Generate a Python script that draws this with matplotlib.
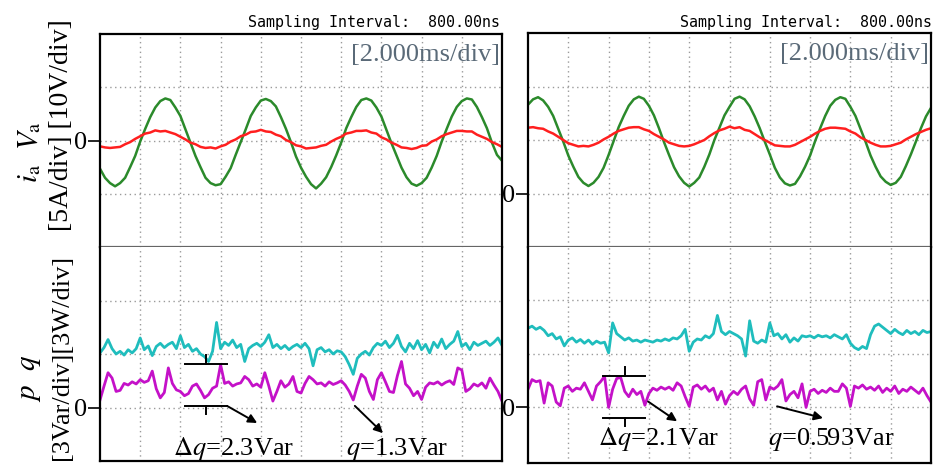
import matplotlib.pyplot as plt
import numpy as np

plt.rcParams['font.family'] = ['Liberation Serif', 'DejaVu Serif']
plt.rcParams['mathtext.fontset'] = 'stix'

W, H = 935, 466

# time base in scope divisions (2 ms/div)
t_wave = np.linspace(0, 10, 81)
t_pow = np.linspace(0, 10, 101)

# left scope, upper traces (divisions)
left_va = [-0.53, -0.70, -0.80, -0.86, -0.80, -0.70, -0.50, -0.29, -0.02, 0.22,
           0.44, 0.62, 0.74, 0.79, 0.76, 0.62, 0.46, 0.21, -0.04, -0.29,
           -0.50, -0.70, -0.80, -0.84, -0.82, -0.68, -0.52, -0.27, -0.03, 0.21,
           0.46, 0.62, 0.75, 0.78, 0.74, 0.64, 0.44, 0.22, -0.03, -0.30,
           -0.51, -0.68, -0.82, -0.90, -0.81, -0.69, -0.50, -0.28, -0.04, 0.23,
           0.44, 0.63, 0.76, 0.79, 0.75, 0.62, 0.45, 0.20, -0.05, -0.28,
           -0.51, -0.69, -0.81, -0.85, -0.80, -0.70, -0.51, -0.29, -0.02, 0.22,
           0.45, 0.63, 0.74, 0.79, 0.77, 0.63, 0.44, 0.23, -0.04, -0.27,
           -0.38]
left_ia = [-0.11, -0.13, -0.14, -0.13, -0.12, -0.07, -0.03, 0.03, 0.08, 0.13,
           0.15, 0.19, 0.17, 0.18, 0.15, 0.12, 0.07, 0.02, -0.04, -0.07,
           -0.12, -0.14, -0.13, -0.15, -0.11, -0.08, -0.02, 0.02, 0.08, 0.11,
           0.16, 0.17, 0.20, 0.17, 0.16, 0.11, 0.08, 0.01, -0.03, -0.09,
           -0.11, -0.15, -0.14, -0.13, -0.10, -0.08, -0.02, 0.03, 0.07, 0.13,
           0.15, 0.18, 0.18, 0.19, 0.15, 0.13, 0.06, 0.02, -0.04, -0.08,
           -0.13, -0.14, -0.16, -0.14, -0.10, -0.09, -0.02, 0.02, 0.08, 0.12,
           0.15, 0.18, 0.18, 0.17, 0.17, 0.11, 0.07, 0.03, -0.03, -0.07,
           -0.12]

# left scope, lower traces
left_p = [1.02, 1.12, 1.27, 1.10, 1.00, 1.05, 0.98, 1.08, 1.02, 1.10,
          1.30, 1.08, 1.15, 0.97, 1.14, 1.20, 1.12, 1.18, 1.22, 1.10,
          1.34, 1.12, 1.18, 1.05, 1.10, 1.00, 0.95, 0.86, 1.05, 1.59,
          1.10, 1.22, 1.16, 1.26, 1.12, 1.18, 0.86, 1.10, 1.16, 1.20,
          1.14, 1.22, 1.36, 1.12, 1.18, 1.10, 1.16, 1.08, 1.14, 1.18,
          1.12, 1.20, 1.10, 0.78, 1.08, 1.12, 1.04, 1.08, 1.00, 1.06,
          1.04, 0.95, 0.80, 0.62, 0.92, 1.00, 1.05, 0.98, 1.12, 1.20,
          1.16, 1.24, 1.12, 1.20, 1.35, 1.14, 1.04, 1.20, 1.10, 1.25,
          1.08, 1.18, 1.02, 1.22, 1.12, 1.28, 1.10, 1.18, 1.24, 1.42,
          1.14, 1.20, 1.08, 1.22, 1.16, 1.20, 1.24, 1.16, 1.22, 1.30,
          1.16]
left_q = [0.14, 0.40, 0.65, 0.55, 0.30, 0.32, 0.45, 0.42, 0.48, 0.44,
          0.52, 0.47, 0.50, 0.68, 0.35, 0.18, 0.28, 0.74, 0.45, 0.33,
          0.30, 0.22, 0.26, 0.40, 0.44, 0.32, 0.18, 0.24, 0.36, 0.40,
          0.80, 0.45, 0.48, 0.40, 0.44, 0.46, 0.58, 0.52, 0.40, 0.44,
          0.38, 0.65, 0.40, 0.12, 0.30, 0.50, 0.38, 0.44, 0.58, 0.30,
          0.27, 0.45, 0.58, 0.52, 0.44, 0.46, 0.40, 0.48, 0.43, 0.46,
          0.50, 0.42, 0.30, 0.14, 0.40, 0.62, 0.55, 0.30, 0.15, 0.52,
          0.65, 0.48, 0.30, 0.28, 0.60, 0.86, 0.44, 0.36, 0.22, 0.30,
          0.15, 0.38, 0.46, 0.44, 0.48, 0.42, 0.47, 0.50, 0.43, 0.74,
          0.70, 0.30, 0.35, 0.44, 0.40, 0.46, 0.36, 0.55, 0.42, 0.30,
          0.12]

# right scope, upper traces
right_va = [0.66, 0.76, 0.80, 0.74, 0.62, 0.45, 0.21, -0.03, -0.29, -0.50,
            -0.69, -0.80, -0.86, -0.80, -0.69, -0.52, -0.28, -0.02, 0.24, 0.45,
            0.64, 0.76, 0.81, 0.77, 0.64, 0.46, 0.22, -0.04, -0.28, -0.51,
            -0.68, -0.80, -0.87, -0.80, -0.70, -0.50, -0.27, 0.00, 0.23, 0.46,
            0.62, 0.77, 0.81, 0.76, 0.63, 0.44, 0.22, -0.03, -0.27, -0.52,
            -0.70, -0.81, -0.85, -0.82, -0.68, -0.50, -0.29, -0.02, 0.22, 0.45,
            0.64, 0.75, 0.80, 0.77, 0.62, 0.45, 0.21, -0.03, -0.29, -0.50,
            -0.68, -0.78, -0.84, -0.80, -0.69, -0.49, -0.27, -0.03, 0.22, 0.44,
            0.60]
right_ia = [0.23, 0.24, 0.22, 0.21, 0.16, 0.12, 0.06, 0.00, -0.06, -0.09,
            -0.12, -0.11, -0.12, -0.09, -0.05, 0.01, 0.06, 0.12, 0.17, 0.20,
            0.23, 0.24, 0.24, 0.20, 0.17, 0.11, 0.06, 0.01, -0.05, -0.08,
            -0.11, -0.12, -0.11, -0.08, -0.04, 0.00, 0.07, 0.13, 0.18, 0.21,
            0.25, 0.22, 0.24, 0.19, 0.17, 0.11, 0.05, 0.00, -0.05, -0.10,
            -0.11, -0.12, -0.12, -0.09, -0.04, 0.01, 0.06, 0.12, 0.17, 0.21,
            0.23, 0.23, 0.22, 0.21, 0.16, 0.12, 0.05, 0.00, -0.05, -0.09,
            -0.12, -0.12, -0.11, -0.08, -0.05, 0.01, 0.06, 0.11, 0.15, 0.19,
            0.22]

# right scope, lower traces
right_p = [1.48, 1.52, 1.46, 1.50, 1.44, 1.34, 1.38, 1.28, 1.32, 1.15,
           1.26, 1.30, 1.22, 1.27, 1.20, 1.26, 1.18, 1.24, 1.20, 1.22,
           1.02, 1.58, 1.38, 1.32, 1.26, 1.30, 1.24, 1.26, 1.22, 1.26,
           1.24, 1.22, 1.26, 1.24, 1.28, 1.25, 1.30, 1.28, 1.34, 1.46,
           1.05, 1.22, 1.28, 1.26, 1.34, 1.30, 1.38, 1.72, 1.42, 1.36,
           1.42, 1.38, 1.34, 1.28, 0.96, 1.62, 1.24, 1.20, 1.26, 1.22,
           1.58, 1.34, 1.38, 1.28, 1.36, 1.22, 1.30, 1.24, 1.34, 1.32,
           1.34, 1.30, 1.35, 1.32, 1.34, 1.30, 1.36, 1.32, 1.28, 1.36,
           1.20, 1.12, 1.08, 1.14, 1.10, 1.36, 1.52, 1.56, 1.50, 1.44,
           1.38, 1.46, 1.40, 1.36, 1.44, 1.38, 1.42, 1.36, 1.44, 1.40,
           1.42]
right_q = [0.34, 0.52, 0.48, 0.50, 0.08, 0.46, 0.40, 0.10, 0.03, 0.36,
           0.40, 0.30, 0.36, 0.34, 0.46, 0.30, 0.14, 0.40, 0.48, 0.58,
           0.00, 0.34, 0.54, 0.56, 0.30, 0.20, 0.34, 0.24, 0.30, 0.04,
           0.26, 0.36, 0.32, 0.38, 0.34, 0.38, 0.32, 0.46, 0.40, 0.20,
           0.02, 0.38, 0.42, 0.34, 0.40, 0.30, 0.36, 0.14, 0.30, 0.06,
           0.22, 0.30, 0.24, 0.34, 0.40, 0.16, 0.04, 0.48, 0.52, 0.14,
           0.38, 0.34, 0.40, 0.52, 0.12, 0.24, 0.30, 0.18, 0.44, 0.00,
           0.30, 0.34, 0.26, 0.32, 0.28, 0.36, 0.30, 0.30, 0.44, 0.36,
           0.02, 0.40, 0.36, 0.42, 0.34, 0.38, 0.32, 0.40, 0.28, 0.36,
           0.30, 0.40, 0.26, 0.34, 0.30, 0.38, 0.32, 0.26, 0.36, 0.22,
           0.10]

labels_dq = [r"$\Delta q$=2.3Var", r"$\Delta q$=2.1Var"]
labels_q = [r"$q$=1.3Var", r"$q$=0.593Var"]

GREEN = '#2b8a2b'
RED = '#ff1f1f'
CYAN = '#1fbdbd'
MAGENTA = '#c411c8'


def add_axes_px(fig, x0, x1, y0, y1):
    return fig.add_axes([x0 / W, 1 - y1 / H, (x1 - x0) / W, (y1 - y0) / H])


def style_scope(ax, ylim, zero_at, upper):
    ax.set_xlim(0, 10)
    ax.set_ylim(*ylim)
    ax.set_xticks([])
    ax.set_xticks(range(1, 10), minor=True)
    ax.set_yticks([zero_at])
    ax.set_yticklabels(["0"])
    ax.set_yticks(range(int(ylim[0]) + 1, int(round(ylim[1]))), minor=True)
    ax.tick_params(axis='y', which='major', length=9, width=1.2, pad=0, labelsize=19)
    ax.tick_params(which='minor', length=0)
    ax.tick_params(axis='x', which='both', length=0, labelbottom=False)
    ax.grid(which='both', color='#9a9a9a', linestyle=(0, (1, 2.5)), linewidth=1)
    for s in ax.spines.values():
        s.set_linewidth(1.6)
    if upper:
        ax.spines['bottom'].set_color('#666666')
    else:
        ax.spines['top'].set_visible(False)


def bracket(ax, x0, x1, y_top, y_bot, xm):
    ax.plot([x0, x1], [y_top, y_top], color='k', lw=1.4)
    ax.plot([xm, xm], [y_top, y_top + 0.17], color='k', lw=1.4)
    ax.plot([x0, x1], [y_bot, y_bot], color='k', lw=1.4)
    ax.plot([xm, xm], [y_bot, y_bot - 0.15], color='k', lw=1.4)


def arrow(ax, start, end):
    ax.annotate('', xy=end, xytext=start,
                arrowprops=dict(arrowstyle='-|>', color='k', lw=1.4,
                                mutation_scale=13, shrinkA=0, shrinkB=0))


fig = plt.figure(figsize=(W / 100, H / 100), dpi=100)

# left scope
ax_lt = add_axes_px(fig, 100, 502, 34, 247)
ax_lb = add_axes_px(fig, 100, 502, 247, 461)
# right scope
ax_rt = add_axes_px(fig, 528, 931, 33, 247)
ax_rb = add_axes_px(fig, 528, 931, 247, 463)

style_scope(ax_lt, (-2, 2), 0, True)
style_scope(ax_lb, (-1, 3), 0, False)
style_scope(ax_rt, (-2, 2), -1, True)
style_scope(ax_rb, (-1.04, 3), 0, False)

for ax, va, ia in [(ax_lt, left_va, left_ia), (ax_rt, right_va, right_ia)]:
    ax.plot(t_wave, va, color=GREEN, lw=1.8)
    ax.plot(t_wave, ia, color=RED, lw=1.8)
    ax.text(0.995, 0.9, "[2.000ms/div]", transform=ax.transAxes, ha='right',
            va='center', fontsize=19, color='#5a6a78')

for ax, p, q in [(ax_lb, left_p, left_q), (ax_rb, right_p, right_q)]:
    ax.plot(t_pow, p, color=CYAN, lw=2.0)
    ax.plot(t_pow, q, color=MAGENTA, lw=2.0)

# annotations, left
bracket(ax_lb, 2.11, 3.16, 0.81, 0.03, 2.64)
arrow(ax_lb, (3.16, 0.03), (3.91, -0.29))
arrow(ax_lb, (6.34, 0.03), (7.04, -0.48))
ax_lb.text(3.32, -0.78, labels_dq[0], ha='center', va='center', fontsize=19)
ax_lb.text(7.38, -0.78, labels_q[0], ha='center', va='center', fontsize=19)

# annotations, right
bracket(ax_rb, 1.86, 2.90, 0.59, -0.19, 2.41)
arrow(ax_rb, (2.98, 0.11), (3.70, -0.26))
arrow(ax_rb, (6.18, 0.02), (7.32, -0.20))
ax_rb.text(3.25, -0.6, labels_dq[1], ha='center', va='center', fontsize=19)
ax_rb.text(7.52, -0.6, labels_q[1], ha='center', va='center', fontsize=19)

# header text
for xr in [500, 932]:
    fig.text(xr / W, 1 - 22 / H, "Sampling Interval:  800.00ns", ha='right',
             va='center', fontsize=10.8, family='DejaVu Sans Mono')

# y axis labels
fig.text(30 / W, 1 - 152 / H, r"$i_{\rm a}$  $V_{\rm a}$", rotation=90,
         ha='center', va='center', fontsize=21)
fig.text(62 / W, 1 - 125 / H, "[5A/div] [10V/div]", rotation=90,
         ha='center', va='center', fontsize=20)
fig.text(30 / W, 1 - 378 / H, r"$p$  $q$", rotation=90,
         ha='center', va='center', fontsize=21)
fig.text(62 / W, 1 - 357 / H, "[3Var/div][3W/div]", rotation=90,
         ha='center', va='center', fontsize=19)

fig.savefig("out.png", dpi=100)
